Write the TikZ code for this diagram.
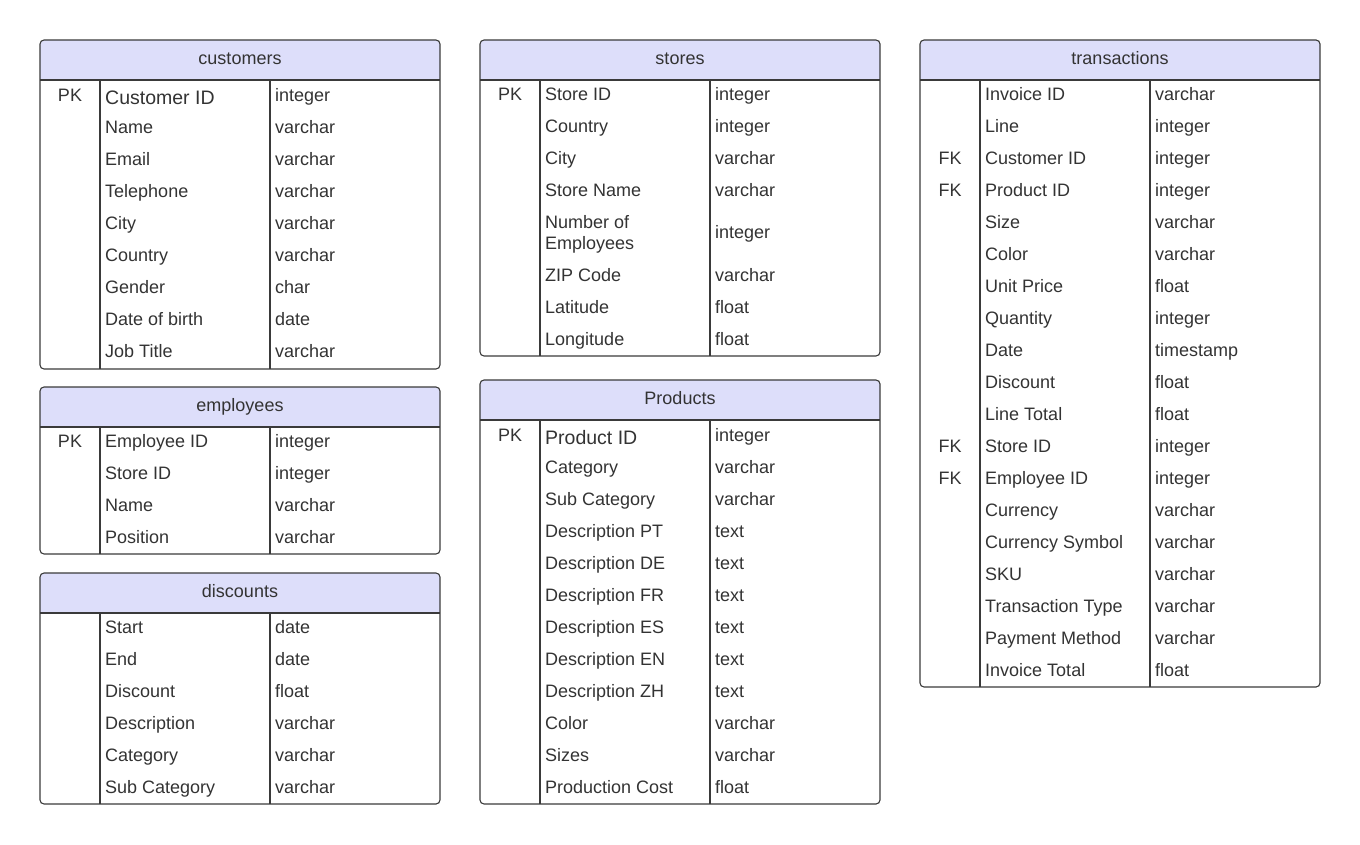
\documentclass[tikz,border=0pt]{standalone}
\usepackage{fontspec}
\setmainfont{Liberation Sans}
\usepackage{tikz}
\usetikzlibrary{positioning}
\usepackage{xcolor}
\definecolor{hdrblue}{RGB}{221,222,250}
\definecolor{tblgray}{RGB}{58,58,58}
\definecolor{txtgray}{RGB}{51,51,51}
\tikzstyle{tblline} = [line width=1.1pt, color=tblgray]
\tikzstyle{cell} = [inner sep=0pt, text=txtgray, font=\fontsize{18}{21}\selectfont]
\tikzstyle{field} = [cell, anchor=base west]
\tikzstyle{keycell} = [cell, anchor=base]
\tikzstyle{bigfield} = [field, font=\fontsize{19.5}{23}\selectfont]
\tikzstyle{tbltitle} = [cell, anchor=base]

% table frame: #1 node name, #2 left x, #3 top y, #4 bottom y, #5 title
\newcommand{\erdframe}[5]{%
  \begin{scope}
    \clip[rounded corners=4pt] (#2,#3) rectangle (#2+400,#4);
    \fill[hdrblue] (#2,#3) rectangle (#2+400,#3+40);
  \end{scope}
  \node[tbltitle] (#1) at (#2+200,#3+24.5) {#5};
  \draw[tblline] (#2,#3+40) -- (#2+400,#3+40);
  \draw[tblline] (#2+60,#3+40) -- (#2+60,#4);
  \draw[tblline] (#2+230,#3+40) -- (#2+230,#4);
  \draw[tblline, rounded corners=4pt] (#2,#3) rectangle (#2+400,#4);
}

\begin{document}
\begin{tikzpicture}[x=1pt, y=-1pt]
\useasboundingbox (0,0) rectangle (1360,845);

% customers
\erdframe{cust}{40}{40}{369}{customers}
\node[keycell] (cust-key0) at (70,101.5) {PK};
\node[bigfield] (cust-field0) at (105,104.5) {Customer ID};
\node[field] (cust-type0) at (275,101.5) {integer};
\foreach \f/\t [count=\i from 1] in {Name/varchar, Email/varchar,
    Telephone/varchar, City/varchar, Country/varchar, Gender/char,
    Date of birth/date, Job Title/varchar}{
  \node[field] (cust-field\i) at (105,101.5+32*\i) {\f};
  \node[field] (cust-type\i) at (275,101.5+32*\i) {\t};
}

% employees
\erdframe{emp}{40}{387}{554}{employees}
\foreach \k/\f/\t [count=\i from 0] in {PK/Employee ID/integer,
    /Store ID/integer, /Name/varchar, /Position/varchar}{
  \node[keycell] (emp-key\i) at (70,447.5+32*\i) {\k};
  \node[field] (emp-field\i) at (105,447.5+32*\i) {\f};
  \node[field] (emp-type\i) at (275,447.5+32*\i) {\t};
}

% discounts
\erdframe{disc}{40}{573}{804}{discounts}
\foreach \f/\t [count=\i from 0] in {Start/date, End/date, Discount/float,
    Description/varchar, Category/varchar, Sub Category/varchar}{
  \node[field] (disc-field\i) at (105,633.5+32*\i) {\f};
  \node[field] (disc-type\i) at (275,633.5+32*\i) {\t};
}

% stores
\erdframe{store}{480}{40}{356}{stores}
\foreach \k/\f/\t [count=\i from 0] in {PK/Store ID/integer,
    /Country/integer, /City/varchar, /Store Name/varchar}{
  \node[keycell] (store-key\i) at (510,100.5+32*\i) {\k};
  \node[field] (store-field\i) at (545,100.5+32*\i) {\f};
  \node[field] (store-type\i) at (715,100.5+32*\i) {\t};
}
\node[cell, anchor=west, align=left] (store-field4) at (545,234.5) {Number of\\Employees};
\node[field] (store-type4) at (715,238.5) {integer};
\foreach \f/\t [count=\i from 5] in {ZIP Code/varchar, Latitude/float,
    Longitude/float}{
  \node[field] (store-field\i) at (545,121.5+32*\i) {\f};
  \node[field] (store-type\i) at (715,121.5+32*\i) {\t};
}

% Products
\erdframe{prod}{480}{380}{804}{Products}
\node[keycell] (prod-key0) at (510,441.5) {PK};
\node[bigfield] (prod-field0) at (545,444.5) {Product ID};
\node[field] (prod-type0) at (715,441.5) {integer};
\foreach \f/\t [count=\i from 1] in {Category/varchar, Sub Category/varchar,
    Description PT/text, Description DE/text, Description FR/text,
    Description ES/text, Description EN/text, Description ZH/text,
    Color/varchar, Sizes/varchar, Production Cost/float}{
  \node[field] (prod-field\i) at (545,441.5+32*\i) {\f};
  \node[field] (prod-type\i) at (715,441.5+32*\i) {\t};
}

% transactions
\erdframe{trans}{920}{40}{687}{transactions}
\foreach \k/\f/\t [count=\i from 0] in {/Invoice ID/varchar, /Line/integer,
    FK/Customer ID/integer, FK/Product ID/integer, /Size/varchar,
    /Color/varchar, /Unit Price/float, /Quantity/integer, /Date/timestamp,
    /Discount/float, /Line Total/float, FK/Store ID/integer,
    FK/Employee ID/integer, /Currency/varchar, /Currency Symbol/varchar,
    /SKU/varchar, /Transaction Type/varchar, /Payment Method/varchar,
    /Invoice Total/float}{
  \node[keycell] (trans-key\i) at (950,100.5+32*\i) {\k};
  \node[field] (trans-field\i) at (985,100.5+32*\i) {\f};
  \node[field] (trans-type\i) at (1155,100.5+32*\i) {\t};
}
\end{tikzpicture}
\end{document}
